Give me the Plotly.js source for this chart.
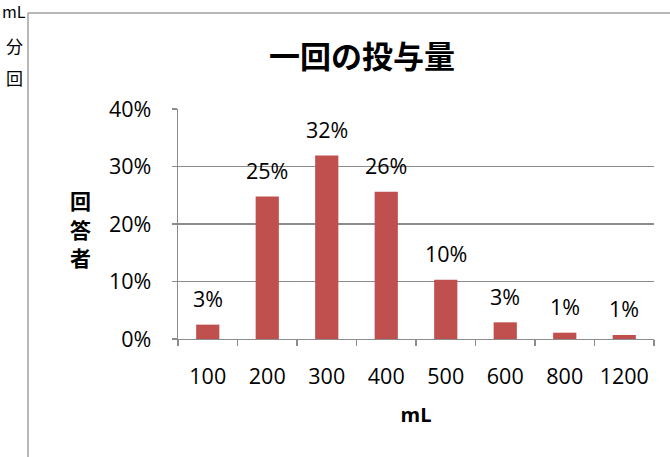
<!DOCTYPE html>
<html>
<head>
<meta charset="utf-8">
<script src="https://cdn.plot.ly/plotly-3.0.1.min.js"></script>
<style>
html,body{margin:0;padding:0;background:#fff;}
#chart{width:670px;height:457px;}
</style>
</head>
<body>
<div id="chart"></div>
<script>
// Data
var categories = ['100','200','300','400','500','600','800','1200'];
var shares = [0.025, 0.248, 0.319, 0.256, 0.103, 0.029, 0.011, 0.007];
var shareLabels = ['3%','25%','32%','26%','10%','3%','1%','1%'];
var yTickVals = [0, 0.1, 0.2, 0.3, 0.4];
var yTickText = ['0%','10%','20%','30%','40%'];
var chartTitle = '一回の投与量';
var xTitle = 'mL';
var yTitle = '回答者';
var sideTexts = ['mL','分','回'];

var W = 670, H = 457;
var L = 178, R = 16, T = 109, B = 118;
var pw = W - L - R, ph = H - T - B;
function px2x(p){ return (p - L) / pw; }
function py2y(p){ return (H - B - p) / ph; }

var tickFont = {family: '"Open Sans", "Liberation Sans", sans-serif', size: 21.5, color: '#000'};
var cjk = '"Noto Sans CJK JP", "Noto Sans", sans-serif';

var annotations = categories.map(function(c, i){
  return {x: i, y: shares[i], xref: 'x', yref: 'y', text: shareLabels[i],
    showarrow: false, yanchor: 'middle', yshift: 26, font: tickFont};
});
var yTitleY = [200, 229, 257];
yTitle.split('').forEach(function(ch, i){
  annotations.push({xref: 'paper', yref: 'paper', x: px2x(80), y: py2y(yTitleY[i]),
    text: ch, showarrow: false, xanchor: 'center', yanchor: 'middle',
    font: {family: cjk, size: 21, color: '#000', weight: 'bold'}});
});
var sideY = [11, 45, 78];
sideTexts.forEach(function(t, i){
  annotations.push({xref: 'paper', yref: 'paper', x: px2x(14), y: py2y(sideY[i]),
    text: t, showarrow: false, xanchor: 'center', yanchor: 'middle',
    font: {family: cjk, size: i === 0 ? 16 : 17, color: '#000'}});
});

var trace = {
  type: 'bar', x: categories, y: shares,
  marker: {color: '#C0504D'},
  hoverinfo: 'x+y'
};

var layout = {
  width: W, height: H,
  margin: {l: L, r: R, t: T, b: B, pad: 0},
  paper_bgcolor: '#fff', plot_bgcolor: '#fff',
  showlegend: false,
  bargap: 0.61,
  title: {text: chartTitle, xref: 'paper', x: px2x(362), xanchor: 'center',
    yref: 'container', y: 1 - 57 / H, yanchor: 'middle',
    font: {family: cjk, size: 31, color: '#000', weight: 'bold'}},
  xaxis: {
    type: 'category', range: [-0.5, categories.length - 0.5], autorange: false,
    categoryorder: 'array', categoryarray: categories,
    tickson: 'boundaries', ticks: 'outside', ticklen: 6,
    tickcolor: '#8c8c8c', tickwidth: 1.3, tickangle: 0,
    showline: true, linecolor: '#8c8c8c', linewidth: 1.3,
    showgrid: false, tickfont: tickFont, ticklabelstandoff: 18,
    title: {text: xTitle, standoff: 19,
      font: {family: '"Open Sans", "Liberation Sans", sans-serif', size: 20, color: '#000', weight: 'bold'}}
  },
  yaxis: {
    range: [0, 0.4], autorange: false, tickvals: yTickVals, ticktext: yTickText,
    ticks: 'outside', ticklen: 5, tickcolor: '#8c8c8c', tickwidth: 1.3,
    showline: true, linecolor: '#8c8c8c', linewidth: 1.3,
    showgrid: true, gridcolor: '#8c8c8c', gridwidth: 1.3,
    zeroline: false, tickfont: tickFont, ticklabelstandoff: 16
  },
  annotations: annotations,
  shapes: [
    {type: 'line', xref: 'paper', yref: 'paper', x0: px2x(28), x1: px2x(28),
      y0: py2y(13), y1: py2y(H + 10), line: {color: '#a0a0a0', width: 1.5}},
    {type: 'line', xref: 'paper', yref: 'paper', x0: px2x(28), x1: px2x(W + 10),
      y0: py2y(13), y1: py2y(13), line: {color: '#a0a0a0', width: 1.5}}
  ]
};

Plotly.newPlot('chart', [trace], layout, {displayModeBar: false, staticPlot: true});
</script>
</body>
</html>
